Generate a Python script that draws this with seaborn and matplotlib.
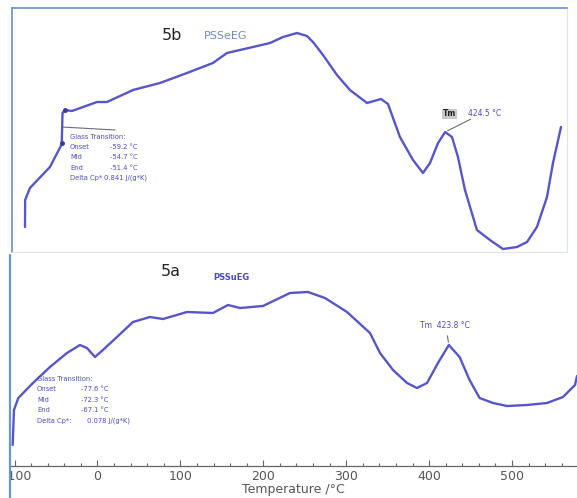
import numpy as np
import pandas as pd
import matplotlib
matplotlib.use("Agg")
import matplotlib.pyplot as plt
from matplotlib.lines import Line2D
from matplotlib.patches import Rectangle
from matplotlib.ticker import MultipleLocator
import seaborn as sns

# DSC trace of PSSeEG (5b): temperature in °C, heat flow in arbitrary units
temp_5b = [-102.6, -102.4, -96.4, -71.3, -57.0, -56.5, -55.5, -52.4, -43.7, -12.3,
           0.3, 32.9, 66.8, 100.6, 133.2, 150.8, 183.4, 204.8, 221.1, 238.6,
           251.2, 258.7, 271.3, 288.8, 305.1, 326.5, 344.0, 352.8, 367.8, 384.2,
           396.7, 405.5, 415.6, 424.5, 433.1, 440.6, 449.4, 464.4, 480.7, 497.1,
           514.7, 527.2, 539.7, 552.3, 559.8, 569.9]
hf_5b = [0.25, 0.52, 0.64, 0.85, 1.07, 1.09, 1.39, 1.42, 1.41, 1.50,
         1.50, 1.62, 1.69, 1.79, 1.89, 1.99, 2.05, 2.09, 2.15, 2.19,
         2.16, 2.10, 1.97, 1.77, 1.62, 1.49, 1.53, 1.48, 1.15, 0.92,
         0.79, 0.89, 1.09, 1.20, 1.15, 0.95, 0.62, 0.22, 0.12, 0.03,
         0.05, 0.10, 0.25, 0.55, 0.89, 1.25]

# DSC trace of PSSuEG (5a)
temp_5a = [-102.3, -100.7, -95.5, -77.8, -57.3, -36.8, -21.1, -12.7, -3.0, 6.6,
           23.5, 42.8, 63.3, 79.0, 108.0, 139.3, 157.4, 171.9, 199.6, 232.2,
           253.9, 274.4, 301.0, 328.7, 340.8, 356.5, 373.4, 385.4, 397.5, 410.7,
           423.8, 436.8, 448.8, 460.9, 477.1, 494.0, 518.1, 542.2, 561.5, 576.0,
           578.4]
hf_5a = [0.21, 0.56, 0.68, 0.83, 0.99, 1.13, 1.21, 1.18, 1.09, 1.16,
         1.29, 1.44, 1.49, 1.47, 1.54, 1.53, 1.61, 1.58, 1.60, 1.73,
         1.74, 1.68, 1.54, 1.33, 1.13, 0.96, 0.83, 0.78, 0.83, 1.03,
         1.21, 1.09, 0.86, 0.68, 0.63, 0.60, 0.61, 0.63, 0.69, 0.81,
         0.90]

# Glass transition and melting results
gt_5b = {"Onset": "-59.2 °C", "Mid": "-54.7 °C", "End": "-51.4 °C", "Delta Cp*": "0.841 J/(g*K)"}
gt_5a = {"Onset": "-77.6 °C", "Mid": "-72.3 °C", "End": "-67.1 °C", "Delta Cp*:": "0.078 J/(g*K)"}
tm_5b = 424.5
tm_5a = 423.8
x_ticks = [-100, 0, 100, 200, 300, 400, 500]

sns.set_theme(style="white")
plt.rcParams["font.family"] = ["DejaVu Sans"]
plt.rcParams["lines.solid_joinstyle"] = "round"
plt.rcParams["lines.solid_capstyle"] = "round"

W, H = 577, 498
fig = plt.figure(figsize=(W / 100, H / 100), dpi=100)
fig.patch.set_facecolor("white")


def fx(x):
    return x / W


def fy(y):
    return 1 - y / H


line_col = "#5656c8"
text_blue = "#4b4bc4"
small = 4.9

df_b = pd.DataFrame({"Temperature": temp_5b, "Heat flow": hf_5b})
df_a = pd.DataFrame({"Temperature": temp_5a, "Heat flow": hf_5a})

# ---- upper panel: 5b ----
ax_b = fig.add_axes([fx(12), fy(252), fx(555), 244 / H])
sns.lineplot(data=df_b, x="Temperature", y="Heat flow", sort=False, ax=ax_b,
             color=line_col, lw=1.7, estimator=None)
ax_b.set_xlim(-118.9, 577.4)
ax_b.set_ylim(0, 2.44)
ax_b.set_xticks([])
ax_b.set_yticks([])
ax_b.set_xlabel("")
ax_b.set_ylabel("")
for side in ["top", "left"]:
    ax_b.spines[side].set_color("#7090c8")
    ax_b.spines[side].set_linewidth(1.2)
for side in ["right", "bottom"]:
    ax_b.spines[side].set_color("#dde4ee")
    ax_b.spines[side].set_linewidth(0.8)

# glass-transition markers and leader line
ax_b.plot([temp_5b[5], temp_5b[7]], [hf_5b[5], hf_5b[7]], "o", ms=2.5, color="#3a3a9a")
fig.add_artist(Line2D([fx(62), fx(115)], [fy(127), fy(130)], color="#6a6a7a", lw=0.8))
fig.text(fx(70), fy(137), "Glass Transition:", fontsize=small, color=text_blue, va="center")
for i, (k, v) in enumerate(gt_5b.items()):
    yy = 147 + i * 10.3
    fig.text(fx(70), fy(yy), k, fontsize=small, color=text_blue, va="center")
    fig.text(fx(110 if i < 3 else 104), fy(yy), v, fontsize=small, color=text_blue, va="center")

# melting peak label
pk_b = (tm_5b, hf_5b[temp_5b.index(tm_5b)])
ax_b.annotate("", xy=pk_b, xycoords="data", xytext=(fx(473), fy(118)),
              textcoords="figure fraction",
              arrowprops=dict(arrowstyle="-", color="#6a6a7a", lw=0.8))
fig.text(fx(443), fy(114), "Tm", fontsize=5.5, color="#222222", va="center",
         fontweight="bold", bbox=dict(boxstyle="square,pad=0.1", fc="#c8c8c8", ec="none"))
fig.text(fx(468), fy(114), f"{tm_5b} °C", fontsize=5.5, color=text_blue, va="center")

fig.text(fx(162), fy(36), "5b", fontsize=11.5, color="#222222", va="center")
fig.text(fx(204), fy(36), "PSSeEG", fontsize=8, color="#7288c4", va="center")

# ---- lower panel: 5a ----
ax_a = fig.add_axes([fx(10), fy(466), fx(567), 211 / H])
sns.lineplot(data=df_a, x="Temperature", y="Heat flow", sort=False, ax=ax_a,
             color=line_col, lw=1.7, estimator=None)
ax_a.set_xlim(-105.5, 578.4)
ax_a.set_ylim(0, 2.11)
ax_a.set_yticks([])
ax_a.set_ylabel("")
ax_a.set_xticks(x_ticks)
ax_a.set_xticklabels([str(t).replace("-", "\u2212") for t in x_ticks])
ax_a.xaxis.set_minor_locator(MultipleLocator(20))
ax_a.tick_params(axis="x", which="major", bottom=True, direction="in", length=4,
                 width=0.8, color="#666666", labelsize=9, labelcolor="#555555", pad=3)
ax_a.tick_params(axis="x", which="minor", bottom=True, direction="in", length=2.5,
                 width=0.8, color="#666666")
ax_a.set_xlabel("Temperature /°C", fontsize=9, color="#555555", labelpad=0)
for side in ["top", "right", "left"]:
    ax_a.spines[side].set_visible(False)
ax_a.spines["bottom"].set_color("#666666")
ax_a.spines["bottom"].set_linewidth(0.9)
ax_a.patch.set_alpha(0)

fig.text(fx(37), fy(379), "Glass Transition:", fontsize=small, color=text_blue, va="center")
for i, (k, v) in enumerate(gt_5a.items()):
    yy = 389 + i * 10.6
    fig.text(fx(37), fy(yy), k, fontsize=small, color=text_blue, va="center")
    fig.text(fx(81 if i < 3 else 87), fy(yy), v, fontsize=small, color=text_blue, va="center")

pk_a = (tm_5a, hf_5a[temp_5a.index(tm_5a)])
ax_a.annotate("", xy=pk_a, xycoords="data", xytext=(fx(447), fy(333)),
              textcoords="figure fraction",
              arrowprops=dict(arrowstyle="-", color="#6a6a7a", lw=0.8))
fig.text(fx(420), fy(325), f"Tm  {tm_5a} °C", fontsize=5.5, color=text_blue, va="center")

fig.text(fx(161), fy(272), "5a", fontsize=11.5, color="#222222", va="center")
fig.text(fx(213), fy(277), "PSSuEG", fontsize=6, color=text_blue, va="center",
         fontweight="bold")

# left frame edge of the lower panel
fig.add_artist(Rectangle((0, 0), fx(10), fy(255), transform=fig.transFigure,
                         fc="white", ec="none", zorder=5))
fig.add_artist(Line2D([fx(10), fx(10)], [fy(255), 0], color="#6a96d0", lw=1.6, zorder=6))

fig.savefig("out.png", dpi=100)
